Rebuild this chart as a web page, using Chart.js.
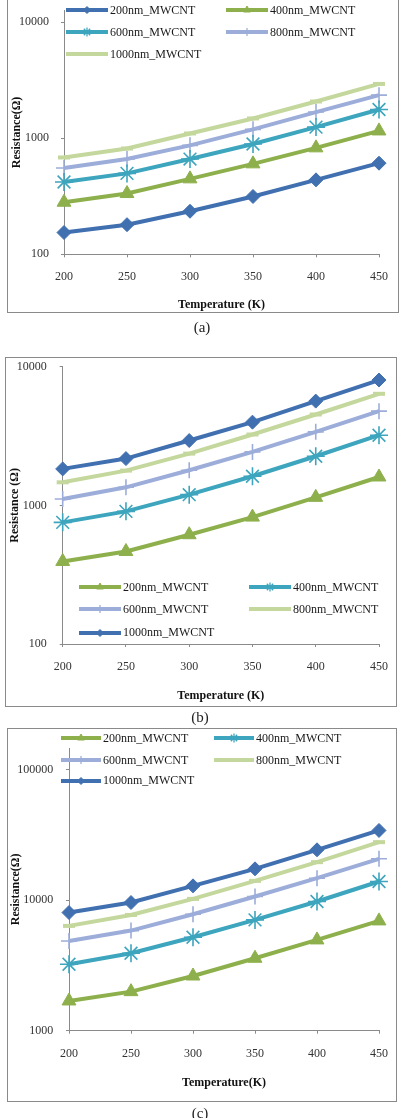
<!DOCTYPE html>
<html><head><meta charset="utf-8">
<script src="https://cdn.jsdelivr.net/npm/chart.js@4.4.1/dist/chart.umd.min.js"></script>
<style>
html,body{margin:0;padding:0;background:#fff;}
body{width:399px;height:1118px;position:relative;overflow:hidden;font-family:'Liberation Serif','Times New Roman',serif;}
.frame{position:absolute;border:1px solid #8a8a8a;box-sizing:border-box;}
canvas.ch{position:absolute;left:0;}
.cap{position:absolute;font-size:15px;color:#222;transform:translate(-50%,-50%);line-height:1;}
.leg{position:absolute;display:flex;align-items:center;height:16px;font-size:12px;color:#1a1a1a;white-space:nowrap;}
.leg canvas{display:block;}
</style></head><body>
<div class="frame" style="left:7px;top:-5px;width:392px;height:318px;"></div>
<div class="frame" style="left:5px;top:357px;width:392px;height:350px;"></div>
<div class="frame" style="left:7px;top:728px;width:390px;height:374px;"></div>
<canvas id="ca" class="ch" width="399" height="320" style="top:0px"></canvas>
<canvas id="cb" class="ch" width="399" height="380" style="top:340px"></canvas>
<canvas id="cc" class="ch" width="399" height="398" style="top:720px"></canvas>
<div class="cap" style="left:202px;top:327px;">(a)</div>
<div class="cap" style="left:200px;top:717px;">(b)</div>
<div class="cap" style="left:200px;top:1113px;">(c)</div>
<div id="legs"></div>
<script>
const temps = [200, 250, 300, 350, 400, 450];
const seriesNames = ['200nm_MWCNT', '400nm_MWCNT', '600nm_MWCNT', '800nm_MWCNT', '1000nm_MWCNT'];
// (a)
const a200 = [154, 180, 235, 315, 438, 610];
const a400 = [281, 334, 447, 602, 827, 1157];
const a600 = [420, 498, 662, 892, 1248, 1770];
const a800 = [554, 662, 869, 1194, 1682, 2354];
const a1000 = [683, 816, 1100, 1482, 2074, 2940];
// (b)
const b200 = [394, 465, 614, 823, 1142, 1602];
const b400 = [754, 905, 1194, 1621, 2260, 3206];
const b600 = [1111, 1349, 1791, 2430, 3388, 4781];
const b800 = [1466, 1781, 2362, 3243, 4522, 6377];
const b1000 = [1832, 2174, 2934, 3981, 5647, 8013];
// (c)
const c200 = [1690, 1992, 2625, 3589, 4962, 6939];
const c400 = [3228, 3920, 5200, 7063, 9770, 13910];
const c600 = [4875, 5850, 7811, 10670, 14750, 20760];
const c800 = [6355, 7713, 10240, 14070, 19570, 27860];
const c1000 = [8045, 9600, 12880, 17390, 24330, 34250];
// tick labels
const yTicksA = [100, 1000, 10000];
const yTicksB = [100, 1000, 10000];
const yTicksC = [1000, 10000, 100000];

const FF = "'Liberation Serif','Times New Roman',serif";
const STY = {
  blue:   {color:'#4170B0', pointStyle:'rectRot',  radius:7, bw:1},
  green:  {color:'#8DB04C', pointStyle:'triangle', radius:8, bw:1},
  teal:   {color:'#3DA5BD', pointStyle:'star',     radius:9, bw:1.6},
  lav:    {color:'#9CADDA', pointStyle:'cross',    radius:8, bw:1.6},
  lgreen: {color:'#C4D79C', pointStyle:'line',     radius:6, bw:4}
};
const styleA = ['blue','green','teal','lav','lgreen'];
const styleBC = ['green','teal','lav','lgreen','blue'];

function makeChart(id, arrays, styles, c) {
  const datasets = arrays.map((arr, i) => {
    const s = STY[styles[i]];
    return {
      label: seriesNames[i], data: arr,
      borderColor: s.color, backgroundColor: s.color, borderWidth: 4,
      pointStyle: s.pointStyle, pointRadius: s.radius, pointBorderWidth: s.bw,
      pointBackgroundColor: s.color, pointBorderColor: s.color,
      tension: 0, clip: false, fill: false
    };
  });
  const grid = {display:true, drawOnChartArea:false, drawTicks:true, tickLength:3, color:'#8a8a8a'};
  const border = {display:true, color:'#8a8a8a', width:1};
  return new Chart(document.getElementById(id), {
    type: 'line',
    data: {labels: temps.map(String), datasets},
    options: {
      responsive:false, animation:false, devicePixelRatio:1,
      layout:{padding:c.pad},
      plugins:{legend:{display:false}, tooltip:{enabled:false}},
      scales:{
        x:{type:'category', offset:false, grid, border,
           ticks:{padding:c.xTickPad, color:'#333', font:{family:FF,size:12}, maxRotation:0, autoSkip:false},
           title:{display:true, text:c.xTitle, color:'#111', font:{family:FF,size:12,weight:'bold'}, padding:{top:0,bottom:c.xTitlePad}},
           afterFit(s){ s.height = c.xHeight; s.paddingLeft = 0; s.paddingRight = 0; }},
        y:{type:'logarithmic', min:c.min, max:c.max, grid, border,
           ticks:{padding:c.yTickPad, color:'#333', font:{family:FF,size:12}, callback:v=>String(v)},
           afterBuildTicks(s){ s.ticks = c.ticks.map(v=>({value:v})); },
           title:{display:true, text:c.yTitle, color:'#111', font:{family:FF,size:12,weight:'bold'}, padding:{top:c.yTitlePad,bottom:0}},
           afterFit(s){ s.width = c.yWidth; s.paddingTop = 0; s.paddingBottom = 0; }}
      }
    }
  });
}

makeChart('ca', [a200,a400,a600,a800,a1000], styleA, {
  pad:{left:8,right:20,top:0,bottom:7}, yWidth:56, xHeight:58.7, yTickPad:12, xTickPad:12,
  yTitlePad:2, xTitlePad:1, min:100, max:12600, ticks:yTicksA,
  yTitle:'Resistance(Ω)', xTitle:'Temperature (K)'});
makeChart('cb', [b200,b400,b600,b800,b1000], styleBC, {
  pad:{left:6,right:20,top:26.7,bottom:13.3}, yWidth:56.7, xHeight:62.7, yTickPad:13, xTickPad:12.7,
  yTitlePad:1.8, xTitlePad:3.5, min:100, max:10000, ticks:yTicksB,
  yTitle:'Resistance (Ω)', xTitle:'Temperature (K)'});
makeChart('cc', [c200,c400,c600,c800,c1000], styleBC, {
  pad:{left:7,right:20,top:28,bottom:16.3}, yWidth:62, xHeight:71, yTickPad:12.7, xTickPad:12.6,
  yTitlePad:2, xTitlePad:11.8, min:1000, max:146700, ticks:yTicksC,
  yTitle:'Resistance(Ω)', xTitle:'Temperature(K)'});

// HTML legends
function buildLegend(cols, rows, styles, lineLen) {
  const host = document.getElementById('legs');
  seriesNames.forEach((name, i) => {
    const s = STY[styles[i]];
    const d = document.createElement('div');
    d.className = 'leg';
    d.style.left = cols[i % 2] + 'px';
    d.style.top = (rows[Math.floor(i / 2)] - 8) + 'px';
    const cv = document.createElement('canvas');
    cv.width = lineLen + 2; cv.height = 16;
    const ctx = cv.getContext('2d');
    ctx.strokeStyle = s.color; ctx.fillStyle = s.color; ctx.lineWidth = 4;
    ctx.beginPath(); ctx.moveTo(1, 8); ctx.lineTo(lineLen + 1, 8); ctx.stroke();
    if (Chart.helpers && Chart.helpers.drawPoint && s.pointStyle !== 'line') {
      ctx.lineWidth = Math.max(1, s.bw * 0.8);
      Chart.helpers.drawPoint(ctx, {pointStyle:s.pointStyle, radius:s.radius*0.5, borderWidth:ctx.lineWidth, rotation:0}, lineLen/2 + 1, 8);
    }
    const t = document.createElement('span');
    t.textContent = name;
    t.style.marginLeft = '1px';
    d.appendChild(cv); d.appendChild(t);
    host.appendChild(d);
  });
}
buildLegend([65, 225], [10, 32.3, 54.3], styleA, 42);
buildLegend([78, 248], [587.3, 609.3, 632.7], styleBC, 42);
buildLegend([60, 213], [738.3, 760, 780.7], styleBC, 40);
</script>
</body></html>
